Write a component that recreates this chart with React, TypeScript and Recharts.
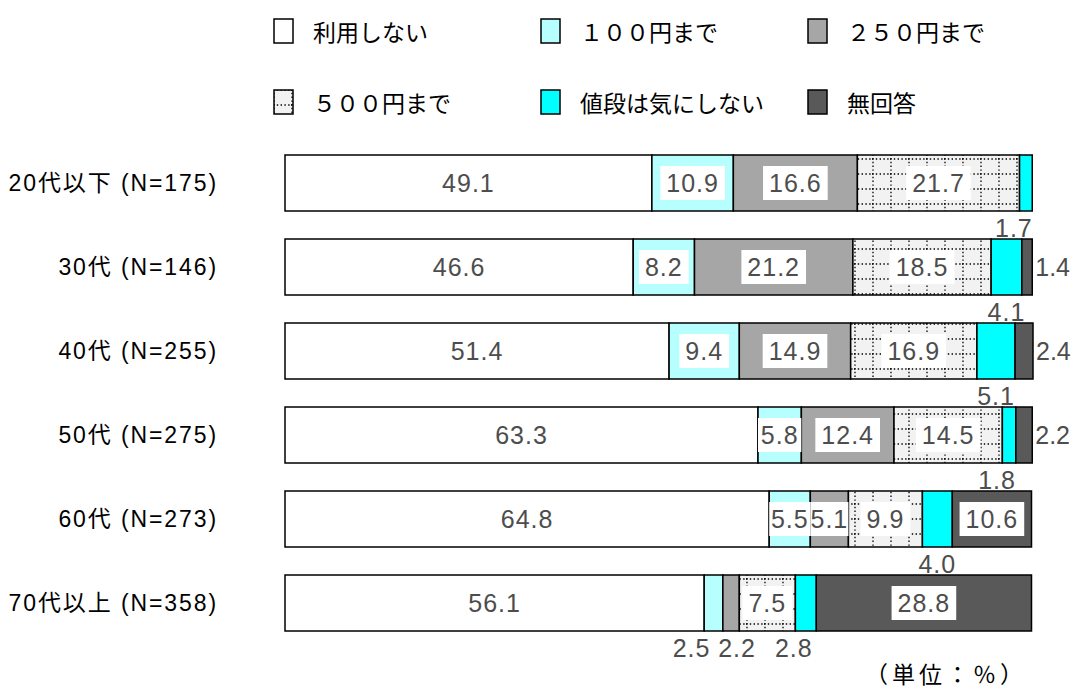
import React from 'react';
import { BarChart, Bar, XAxis, YAxis, Legend, LabelList } from 'recharts';

const categories = [
  '20代以下 (N=175)',
  '30代 (N=146)',
  '40代 (N=255)',
  '50代 (N=275)',
  '60代 (N=273)',
  '70代以上 (N=358)',
];
const seriesNames = ['利用しない', '１００円まで', '２５０円まで', '５００円まで', '値段は気にしない', '無回答'];
const notUse = [49.1, 46.6, 51.4, 63.3, 64.8, 56.1];
const upTo100 = [10.9, 8.2, 9.4, 5.8, 5.5, 2.5];
const upTo250 = [16.6, 21.2, 14.9, 12.4, 5.1, 2.2];
const upTo500 = [21.7, 18.5, 16.9, 14.5, 9.9, 7.5];
const noCare = [1.7, 4.1, 5.1, 1.8, 4.0, 2.8];
const noAnswer = [0, 1.4, 2.4, 2.2, 10.6, 28.8];

const keys = ['notUse', 'upTo100', 'upTo250', 'upTo500', 'noCare', 'noAnswer'];
const fills = ['#FFFFFF', '#B7FFFF', '#A6A6A6', 'url(#dotgrid)', '#00FFFF', '#595959'];

const data = categories.map((c, i) => ({
  name: c,
  notUse: notUse[i],
  upTo100: upTo100[i],
  upTo250: upTo250[i],
  upTo500: upTo500[i],
  noCare: noCare[i],
  noAnswer: noAnswer[i],
}));

const CJK = '"Noto Sans CJK JP", "Noto Sans", sans-serif';
const NUMFONT = '"Liberation Sans", "Noto Sans CJK JP", sans-serif';
const LABEL_SIZE = 25;
const LABEL_SPACING = 1;
const LABEL_COLOR = '#4D4D4D';

function textWidth(s: string, spacing: number) {
  let w = 0;
  for (const ch of s) w += (ch === '.' ? LABEL_SIZE * 0.278 : LABEL_SIZE * 0.556) + spacing;
  return w;
}

function makeLabel(key: string) {
  return (props: any) => {
    const x = Number(props.x);
    const y = Number(props.y);
    const width = Number(props.width);
    const height = Number(props.height);
    const value = Number(props.value);
    if (!value) return null;
    const txt = value.toFixed(1);
    let spacing = LABEL_SPACING;
    let cx = x + width / 2;
    let cy = y + height / 2;
    let anchor: 'middle' | 'start' = 'middle';
    let box = true;
    if (key === 'noCare' || ((key === 'upTo100' || key === 'upTo250') && value < 3)) {
      cy = y + height + 17;
      if (key === 'upTo100') cx -= 22;
      if (key === 'upTo250') cx += 6;
      if (key === 'noCare' && value < 3) cx -= 12;
      box = false;
    } else if (key === 'noAnswer' && value < 5) {
      cx = x + width + 3;
      anchor = 'start';
      spacing = 0;
      box = false;
    }
    const tw = textWidth(txt, spacing);
    const pad = Math.max(0, Math.min(6, (width - tw) / 2));
    return (
      <g>
        {box && <rect x={cx - tw / 2 - pad} y={cy - 17} width={tw + pad * 2} height={34} fill="#FFFFFF" />}
        <text
          x={cx}
          y={cy}
          textAnchor={anchor}
          dominantBaseline="central"
          fontSize={LABEL_SIZE}
          letterSpacing={spacing}
          fontFamily={NUMFONT}
          fill={LABEL_COLOR}
        >
          {txt}
        </text>
      </g>
    );
  };
}

function LegendIcon({ fill }: { fill: string }) {
  return (
    <svg width={22} height={27} style={{ display: 'block' }}>
      <rect x={1} y={1} width={19} height={24} fill={fill} stroke="#000" strokeWidth={1.5} />
    </svg>
  );
}

function renderLegend() {
  return (
    <div style={{ display: 'grid', gridTemplateColumns: '267px 267px 267px', rowGap: 44 }}>
      {seriesNames.map((n, i) => (
        <div key={n} style={{ display: 'flex', alignItems: 'center', height: 27 }}>
          <LegendIcon fill={fills[i]} />
          <span
            style={{
              marginLeft: 18,
              fontFamily: CJK,
              fontSize: 23,
              lineHeight: '27px',
              color: '#000',
              whiteSpace: 'nowrap',
            }}
          >
            {n}
          </span>
        </div>
      ))}
    </div>
  );
}

export default function App() {
  return (
    <div style={{ position: 'relative', width: 1071, height: 683 }}>
      <svg width={0} height={0} style={{ position: 'absolute' }}>
        <defs>
          <pattern id="dotgrid" width={18} height={15} patternUnits="userSpaceOnUse">
            <rect x={0} y={0} width={18} height={15} fill="#F2F2F2" />
            <line x1={1} y1={0} x2={1} y2={15} stroke="#000" strokeWidth={1.3} strokeDasharray="1.4 2.4" />
            <line x1={0} y1={1} x2={18} y2={1} stroke="#000" strokeWidth={1.3} strokeDasharray="1.4 2.4" />
          </pattern>
        </defs>
      </svg>
      <BarChart
        width={1071}
        height={675}
        data={data}
        layout="vertical"
        margin={{ top: 133, right: 46, bottom: 38, left: 0 }}
        barSize={56}
      >
        <XAxis type="number" domain={[0, 100]} hide />
        <YAxis
          type="category"
          dataKey="name"
          width={277}
          axisLine={false}
          tickLine={false}
          tickSize={0}
          tickMargin={67}
          tick={{ fontSize: 23, fill: '#000', fontFamily: NUMFONT, letterSpacing: 1.9 }}
        />
        <Legend
          layout="horizontal"
          verticalAlign="middle"
          content={renderLegend}
          wrapperStyle={{ top: 10, left: 265, width: 810, height: 110 }}
        />
        {keys.map((k, i) => (
          <Bar
            key={k}
            dataKey={k}
            stackId="a"
            fill={fills[i]}
            stroke="#000"
            strokeWidth={1.5}
            isAnimationActive={false}
            name={seriesNames[i]}
          >
            <LabelList dataKey={k} content={makeLabel(k)} />
          </Bar>
        ))}
      </BarChart>
      <div
        style={{
          position: 'absolute',
          left: 857,
          top: 653,
          fontFamily: CJK,
          fontSize: 23,
          lineHeight: '24px',
          letterSpacing: 4,
          color: '#000',
          whiteSpace: 'nowrap',
          textSpacingTrim: 'space-all',
        } as any}
      >
        （単位：％）
      </div>
    </div>
  );
}
